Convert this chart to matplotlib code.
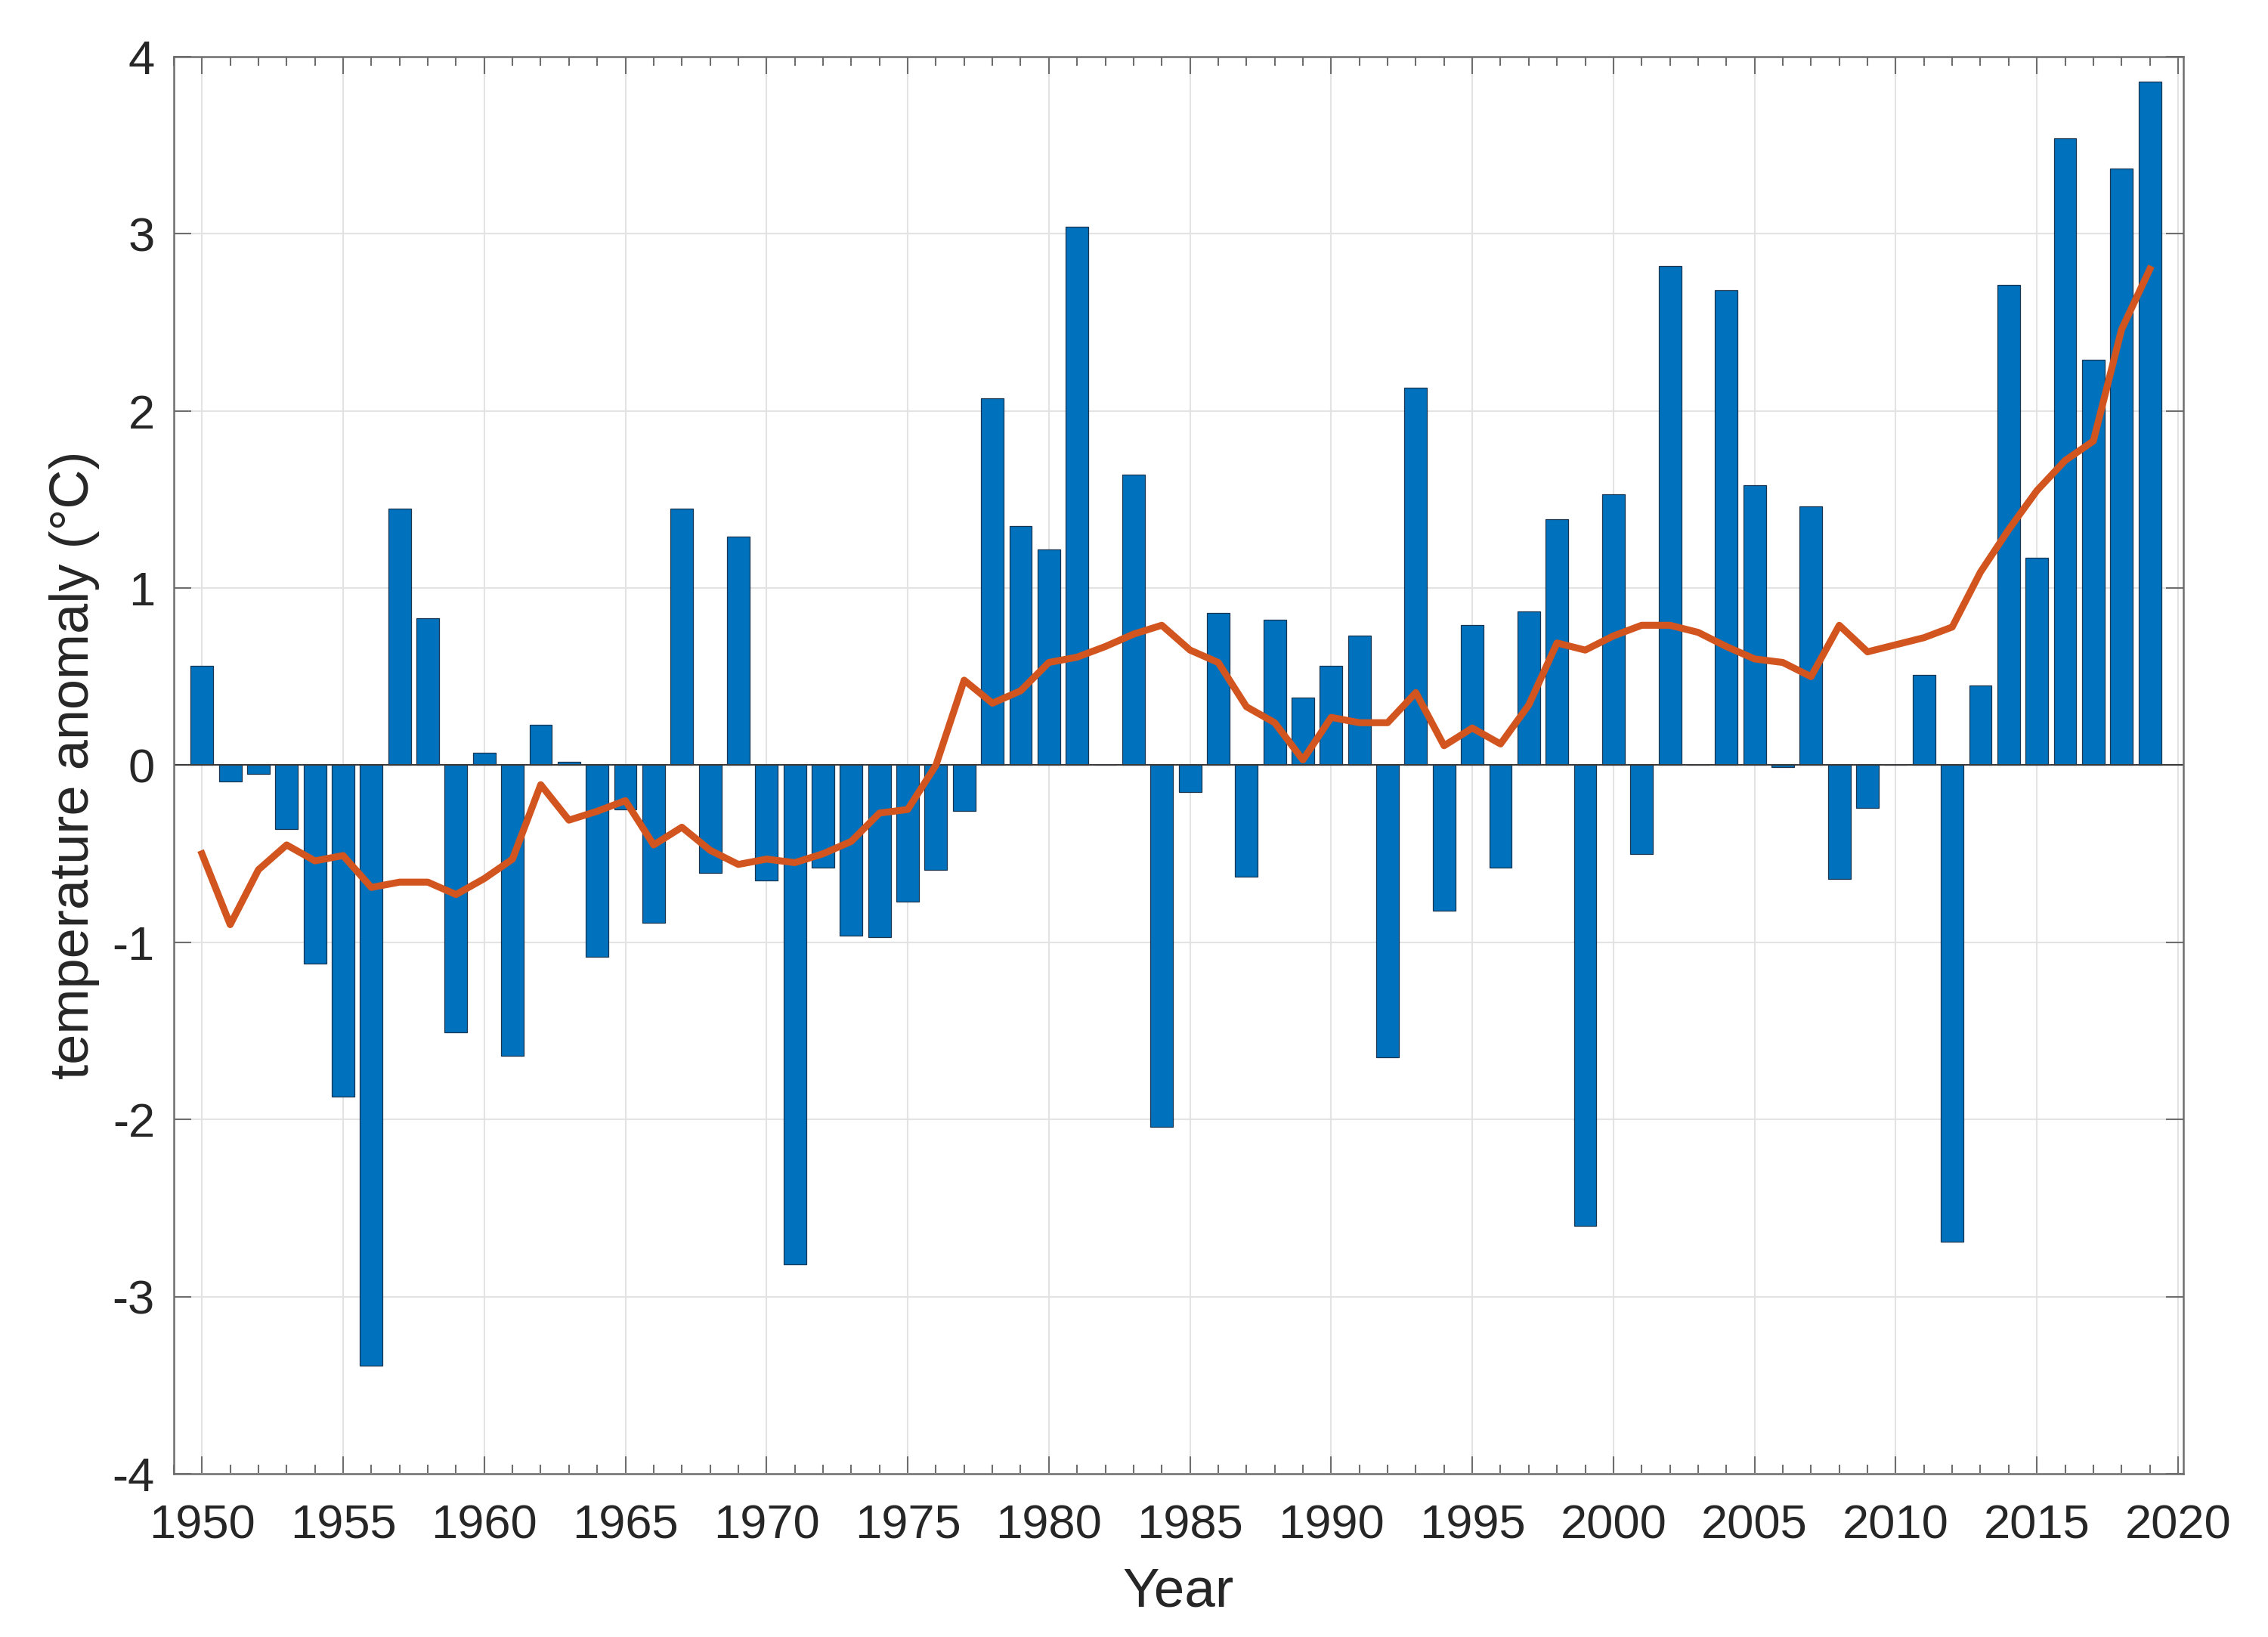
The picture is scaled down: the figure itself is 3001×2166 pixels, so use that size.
import numpy as np
import matplotlib.pyplot as plt
from matplotlib.ticker import MultipleLocator

plt.rcParams["font.family"] = ["Liberation Sans", "DejaVu Sans"]
plt.rcParams["axes.unicode_minus"] = False

# yearly anomaly (bars) and smoothed trend (line)
years = list(range(1950, 2020))
anomaly = [
    0.56, -0.09, -0.05, -0.36, -1.12, -1.87, -3.39, 1.45, 0.83, -1.51,
    0.07, -1.64, 0.23, 0.02, -1.08, -0.25, -0.89, 1.45, -0.61, 1.29,
    -0.65, -2.82, -0.58, -0.96, -0.97, -0.77, -0.59, -0.26, 2.07, 1.35,
    1.22, 3.04, 0.0, 1.64, -2.04, -0.15, 0.86, -0.63, 0.82, 0.38,
    0.56, 0.73, -1.65, 2.13, -0.82, 0.79, -0.58, 0.87, 1.39, -2.60,
    1.53, -0.50, 2.82, 0.0, 2.68, 1.58, -0.01, 1.46, -0.64, -0.24,
    0.0, 0.51, -2.69, 0.45, 2.71, 1.17, 3.54, 2.29, 3.37, 3.86,
]
trend = [
    -0.50, -0.90, -0.59, -0.45, -0.54, -0.51, -0.69, -0.66, -0.66, -0.73,
    -0.64, -0.53, -0.11, -0.31, -0.26, -0.20, -0.45, -0.35, -0.48, -0.56,
    -0.53, -0.55, -0.50, -0.43, -0.27, -0.25, 0.00, 0.48, 0.35, 0.42,
    0.58, 0.61, 0.67, 0.74, 0.79, 0.65, 0.58, 0.33, 0.24, 0.03,
    0.27, 0.24, 0.24, 0.41, 0.11, 0.21, 0.12, 0.34, 0.69, 0.65,
    0.73, 0.79, 0.79, 0.75, 0.67, 0.60, 0.58, 0.50, 0.79, 0.64,
    0.68, 0.72, 0.78, 1.09, 1.33, 1.55, 1.72, 1.83, 2.46, 2.80,
]

txt = "#262626"
axc = "#6e6e6e"

fig = plt.figure(figsize=(3001 / 300, 2166 / 300), dpi=300)
ax = fig.add_axes([0.0766, 0.0997, 0.8861, 0.8657])

ax.bar(years, anomaly, width=0.8, color="#0072BD", edgecolor="#1a3550",
       linewidth=0.3, zorder=3)
ax.axhline(0, color="#3a3a3a", linewidth=0.5, zorder=4)
ax.plot(years, trend, color="#D2541E", linewidth=2.2, zorder=5)

ax.set_xlim(1949.0, 2020.19)
ax.set_ylim(-4, 4)
ax.xaxis.set_major_locator(MultipleLocator(5))
ax.xaxis.set_minor_locator(MultipleLocator(1))
ax.yaxis.set_major_locator(MultipleLocator(1))

ax.grid(True, which="major", color="#e3e3e3", linewidth=0.5, zorder=0)
ax.set_axisbelow(True)

for s in ax.spines.values():
    s.set_color(axc)
    s.set_linewidth(0.6)
    s.set_zorder(6)

ax.tick_params(which="both", direction="in", top=True, right=True,
               color=axc, width=0.5, labelsize=15.2, labelcolor=txt)
ax.tick_params(which="major", length=5.5)
ax.tick_params(axis="x", which="major", pad=9.5)
ax.tick_params(axis="y", which="major", pad=6)
ax.tick_params(which="minor", length=2.8)
ax.tick_params(axis="y", which="minor", left=False, right=False)

ax.set_xlabel("Year", fontsize=17.5, color=txt, labelpad=6)
ax.set_ylabel("temperature anomaly (°C)", fontsize=17.3, color=txt, labelpad=4)

fig.savefig("out.png", dpi=300)
